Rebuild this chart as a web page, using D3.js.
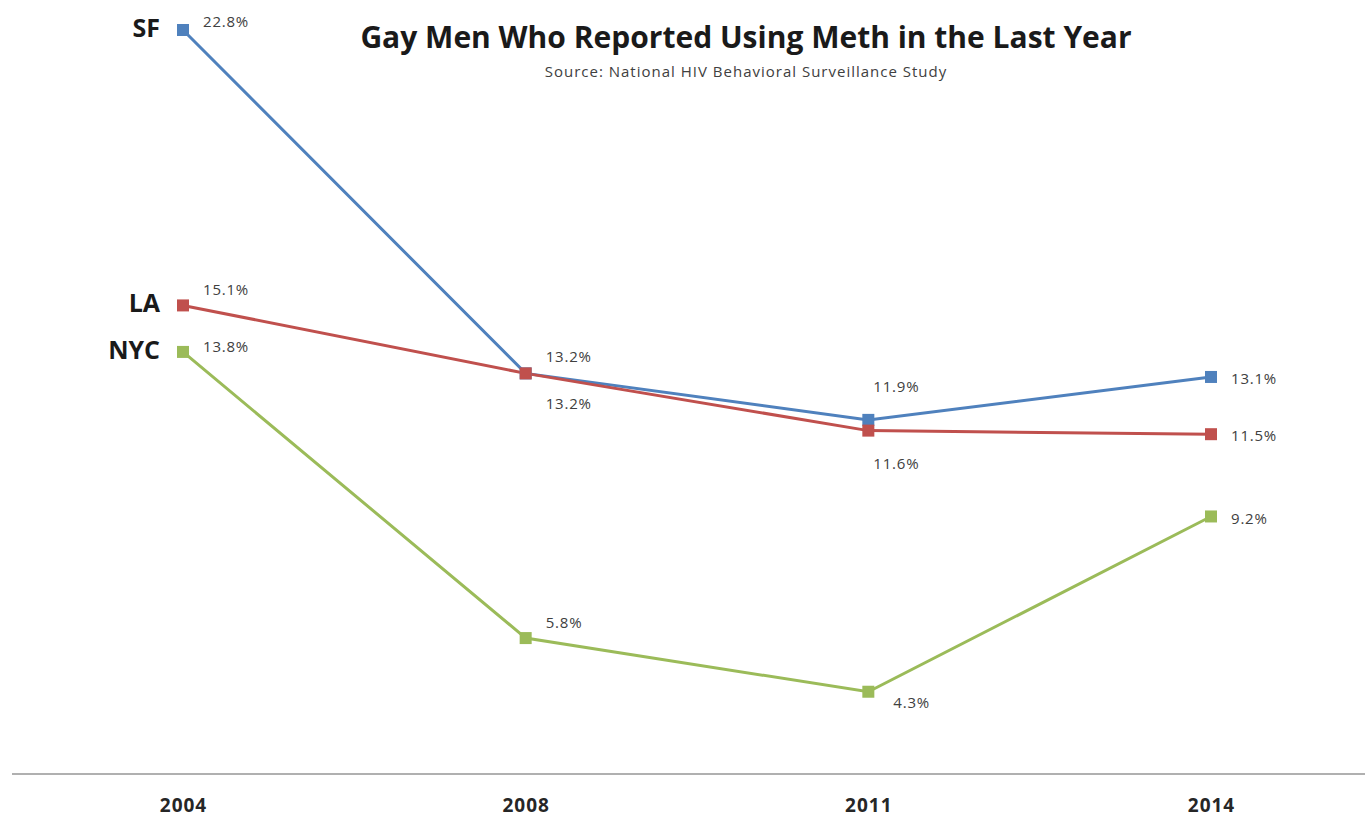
<!DOCTYPE html>
<html>
<head>
<meta charset="utf-8">
<script src="https://cdn.jsdelivr.net/npm/d3@7"></script>
<style>
  body { margin: 0; background: #fff; }
  svg { display: block; }
</style>
</head>
<body>
<div id="chart"></div>
<script>
const years = ["2004", "2008", "2011", "2014"];
const cities = ["SF", "LA", "NYC"];
const sfValues = [22.8, 13.2, 11.9, 13.1];
const laValues = [15.1, 13.2, 11.6, 11.5];
const nycValues = [13.8, 5.8, 4.3, 9.2];
const colors = ["#4f81bd", "#c0504d", "#9bbb59"];

// label offsets from each point (dx, dy), per series
const labelOffsets = [
  [[20, -8], [20, -17], [5, -33], [20, 2]],
  [[20, -16], [20, 30], [5, 33], [20, 2]],
  [[20, -5], [20, -15], [25, 11], [20, 2]]
];

const W = 1365, H = 818;
const series = [sfValues, laValues, nycValues];

const svg = d3.select("#chart").append("svg")
  .attr("width", W).attr("height", H);

const x = d3.scalePoint().domain(years).range([183, 1211]);
const y = d3.scaleLinear().domain([2, 22.8]).range([774, 30]);

// bottom axis
const xAxis = d3.axisBottom(x).tickSize(0).tickPadding(25);
const gx = svg.append("g")
  .attr("transform", "translate(0,774)")
  .call(xAxis);
gx.select(".domain").remove();
gx.append("line")
  .attr("x1", 12).attr("x2", W)
  .attr("stroke", "#b0b0b0").attr("stroke-width", 2);
gx.selectAll(".tick text")
  .attr("font-family", "Open Sans, sans-serif")
  .attr("font-weight", "bold")
  .attr("font-size", 19)
  .attr("letter-spacing", 1)
  .attr("fill", "#262626");

const line = d3.line()
  .x((d, i) => x(years[i]))
  .y(d => y(d));

series.forEach((vals, s) => {
  svg.append("path")
    .datum(vals)
    .attr("d", line)
    .attr("fill", "none")
    .attr("stroke", colors[s])
    .attr("stroke-width", 3);
});

series.forEach((vals, s) => {
  svg.selectAll(".m" + s)
    .data(vals)
    .enter().append("rect")
    .attr("x", (d, i) => x(years[i]) - 6)
    .attr("y", d => y(d) - 6)
    .attr("width", 12).attr("height", 12)
    .attr("fill", colors[s]);

  svg.selectAll(".l" + s)
    .data(vals)
    .enter().append("text")
    .attr("x", (d, i) => x(years[i]) + labelOffsets[s][i][0])
    .attr("y", (d, i) => y(d) + labelOffsets[s][i][1])
    .attr("dy", "0.35em")
    .attr("font-family", "Open Sans, sans-serif")
    .attr("font-size", 15)
    .attr("letter-spacing", 0.8)
    .attr("fill", "#404040")
    .text(d => d.toFixed(1) + "%");

  svg.append("text")
    .attr("x", 160)
    .attr("y", y(vals[0]) - 2)
    .attr("dy", "0.35em")
    .attr("text-anchor", "end")
    .attr("font-family", "Open Sans, sans-serif")
    .attr("font-weight", "bold")
    .attr("font-size", 25)
    .attr("fill", "#1a1a1a")
    .text(cities[s]);
});

svg.append("text")
  .attr("x", 746).attr("y", 48)
  .attr("text-anchor", "middle")
  .attr("font-family", "Open Sans, sans-serif")
  .attr("font-weight", "bold")
  .attr("font-size", 30)
  .attr("fill", "#1a1a1a")
  .text("Gay Men Who Reported Using Meth in the Last Year");

svg.append("text")
  .attr("x", 746).attr("y", 77)
  .attr("text-anchor", "middle")
  .attr("font-family", "Open Sans, sans-serif")
  .attr("font-size", 15)
  .attr("letter-spacing", 1)
  .attr("fill", "#404040")
  .text("Source: National HIV Behavioral Surveillance Study");
</script>
</body>
</html>
